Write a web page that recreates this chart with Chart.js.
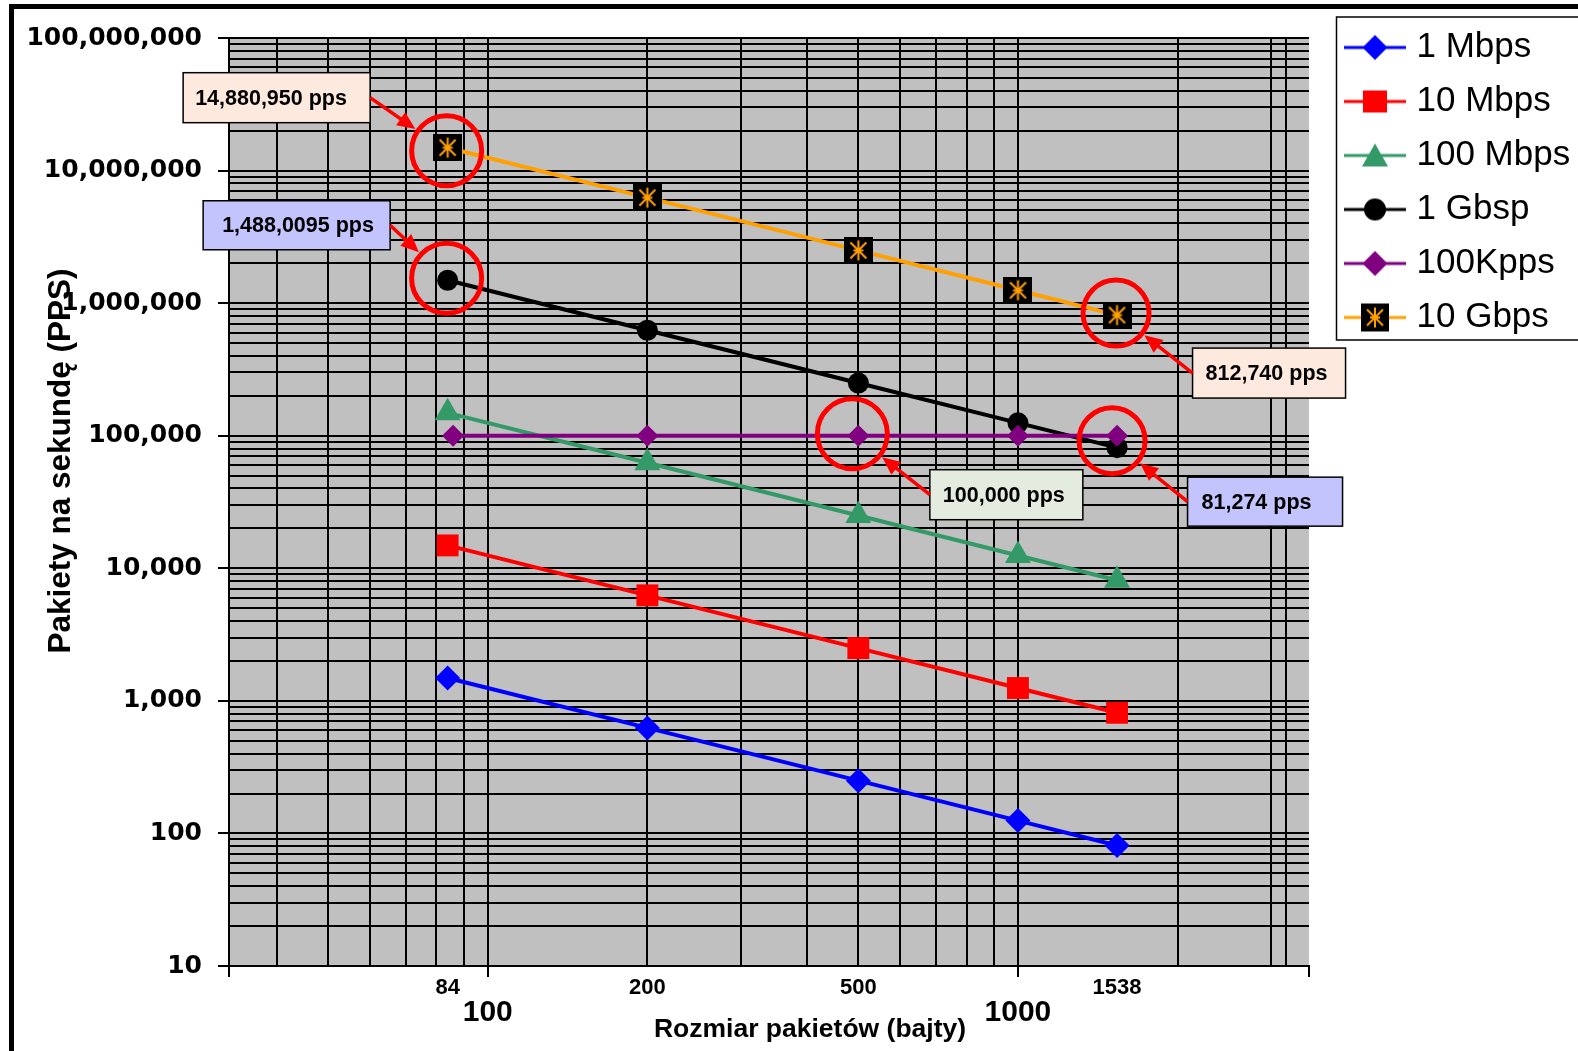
<!DOCTYPE html>
<html lang="pl">
<head>
<meta charset="UTF-8">
<title>Pakiety na sekundę</title>
<script src="https://cdn.jsdelivr.net/npm/chart.js"></script>
<style>
    html, body { margin: 0; padding: 0; background: #fff; overflow: hidden; }
    canvas { display: block; }
</style>
</head>
<body>
<canvas id="ppsChart" width="1578" height="1051"></canvas>
<script>
// packet size in bytes (x axis)
const packetSizes = [84, 200, 500, 1000, 1538];
const kppsSizes = [86, 200, 500, 1000, 1538];

// packets per second for each line
const seriesNames = ['1 Mbps', '10 Mbps', '100 Mbps', '1 Gbsp', '100Kpps', '10 Gbps'];
const pps1M = [1488, 625, 250, 125, 81];
const pps10M = [14881, 6250, 2500, 1250, 813];
const pps100M = [148810, 62500, 25000, 12500, 8127];
const pps1G = [1488095, 625000, 250000, 125000, 81274];
const pps100K = [100000, 100000, 100000, 100000, 100000];
const pps10G = [14880950, 6250000, 2500000, 1250000, 812740];

// axes
const yDecades = [10, 100, 1000, 10000, 100000, 1000000, 10000000, 100000000];
const xRange = [32.5, 3540];
const xGrid = [40, 50, 60, 70, 80, 90, 100, 200, 300, 400, 500, 600, 700, 800, 900, 1000, 2000, 3000, 3200];
const xDecadeLabels = [100, 1000];
const xSizeLabels = [84, 200, 500, 1538];

// callouts
const noteText = ['14,880,950 pps', '1,488,0095 pps', '812,740 pps', '81,274 pps', '100,000 pps'];
const noteX = [84, 84, 1538, 1538, 500];
const noteY = [14880950, 1488095, 812740, 81274, 100000];

const ARIAL = 'Arial, "Liberation Sans", sans-serif';

// callout look, offsets relative to the marked point
const noteStyle = [
    { fill: '#fde9de', cdx: -1, cdy: 3, r: 35, bdx: -171, bdy: -50, w: 187, h: 50, pad: 12, side: 'right' },
    { fill: '#c3c3fd', cdx: -1, cdy: -2, r: 35, bdx: -151, bdy: -55, w: 187, h: 49, pad: 19, side: 'right' },
    { fill: '#fde9de', cdx: -1, cdy: -2, r: 33, bdx: 152, bdy: 58, w: 153, h: 50, pad: 13, side: 'left' },
    { fill: '#c3c3fd', cdx: -5, cdy: -7, r: 33, bdx: 148, bdy: 54, w: 155, h: 49, pad: 14, side: 'left' },
    { fill: '#e4ecdf', cdx: -6, cdy: -2, r: 35, bdx: 148, bdy: 59, w: 153, h: 50, pad: 13, side: 'left' }
];

const seriesStyle = [
    { color: '#0000ff', point: 'rectRot', radius: 12.5, icon: 'diamond' },
    { color: '#ff0000', point: 'rect', radius: 15.5, icon: 'square' },
    { color: '#339966', point: 'triangle', radius: 15, icon: 'triangle' },
    { color: '#000000', point: 'circle', radius: 10.5, icon: 'circle' },
    { color: '#800080', point: 'rectRot', radius: 11, icon: 'diamond' },
    { color: '#ffa000', point: null, radius: 14, icon: 'starbox' }
];

function drawStarBox(g, cx, cy, w, h, color) {
    g.fillStyle = '#000';
    g.fillRect(cx - w / 2, cy - h / 2, w, h);
    g.strokeStyle = color;
    g.lineWidth = 2;
    g.beginPath();
    g.moveTo(cx, cy - 10); g.lineTo(cx, cy + 10);
    g.moveTo(cx - 8, cy - 8); g.lineTo(cx + 8, cy + 8);
    g.moveTo(cx + 8, cy - 8); g.lineTo(cx - 8, cy + 8);
    g.moveTo(cx - 5, cy); g.lineTo(cx + 5, cy);
    g.stroke();
}

function makeStarBox(w, h) {
    const c = document.createElement('canvas');
    c.width = w; c.height = h;
    drawStarBox(c.getContext('2d'), w / 2, h / 2, w, h, '#ffa000');
    return c;
}

function makeLegendIcon(style) {
    const c = document.createElement('canvas');
    c.width = 62; c.height = 30;
    const g = c.getContext('2d');
    const cx = 31, cy = 15;
    g.fillStyle = style.color;
    g.fillRect(0, cy - 1.5, 62, 3);
    g.beginPath();
    if (style.icon === 'diamond') {
        g.moveTo(cx, cy - 12.5); g.lineTo(cx + 12.5, cy); g.lineTo(cx, cy + 12.5); g.lineTo(cx - 12.5, cy);
        g.closePath(); g.fill();
    } else if (style.icon === 'square') {
        g.fillRect(cx - 12, cy - 11, 24, 22);
    } else if (style.icon === 'triangle') {
        g.moveTo(cx, cy - 12); g.lineTo(cx + 13, cy + 11); g.lineTo(cx - 13, cy + 11);
        g.closePath(); g.fill();
    } else if (style.icon === 'circle') {
        g.arc(cx, cy, 11, 0, Math.PI * 2); g.fill();
    } else {
        drawStarBox(g, cx, cy, 28, 28, style.color);
    }
    return c;
}

const starBox = makeStarBox(29, 27);
const legendIcons = seriesStyle.map(makeLegendIcon);

const seriesData = [pps1M, pps10M, pps100M, pps1G, pps100K, pps10G];
const seriesX = [packetSizes, packetSizes, packetSizes, packetSizes, kppsSizes, packetSizes];

const yTicks = [];
yDecades.slice(0, -1).forEach(d => { for (let k = 1; k <= 9; k++) yTicks.push(d * k); });
yTicks.push(yDecades[yDecades.length - 1]);

const xTicks = [...new Set([xRange[0], ...xGrid, ...xSizeLabels, xRange[1]])].sort((a, b) => a - b);
const xTickMarks = [xRange[0], 100, 1000, xRange[1]];

const datasets = seriesNames.map((name, i) => ({
    label: name,
    data: seriesX[i].map((x, j) => ({ x: x, y: seriesData[i][j] })),
    borderColor: seriesStyle[i].color,
    backgroundColor: seriesStyle[i].color,
    borderWidth: 4,
    tension: 0,
    pointStyle: seriesStyle[i].point || starBox,
    pointRadius: seriesStyle[i].radius,
    pointHoverRadius: seriesStyle[i].radius,
    pointBorderWidth: 0,
    pointBackgroundColor: seriesStyle[i].color,
    order: name === '100Kpps' ? 0 : 1
}));

const framePlugin = {
    id: 'frame',
    beforeDraw(chart) {
        const { ctx, chartArea, width, height } = chart;
        ctx.save();
        ctx.fillStyle = '#fff';
        ctx.fillRect(0, 0, width, height);
        ctx.fillStyle = '#000';
        ctx.fillRect(9, 4, width, 5);
        ctx.fillRect(9, 4, 5, height);
        ctx.fillStyle = '#c0c0c0';
        ctx.fillRect(chartArea.left, chartArea.top, chartArea.right - chartArea.left, chartArea.bottom - chartArea.top);
        // legend frame
        ctx.fillStyle = '#fff';
        ctx.fillRect(1336.5, 17, 260, 323);
        ctx.strokeStyle = '#000';
        ctx.lineWidth = 1.5;
        ctx.strokeRect(1336.5, 17, 260, 323);
        ctx.restore();

        const lg = chart.legend;
        lg.left = 1332;
        lg.top = 11;
        lg.right = width + 20;
        lg.bottom = lg.top + 400;
    },
    afterDraw(chart) {
        const { ctx, scales } = chart;
        ctx.save();
        // callouts
        noteText.forEach((text, i) => {
            const st = noteStyle[i];
            const px = scales.x.getPixelForValue(noteX[i]);
            const py = scales.y.getPixelForValue(noteY[i]);
            const cx = px + st.cdx, cy = py + st.cdy;
            ctx.strokeStyle = '#ff0000';
            ctx.lineWidth = 5;
            ctx.beginPath();
            ctx.arc(cx, cy, st.r, 0, Math.PI * 2);
            ctx.stroke();

            const bx = px + st.bdx - st.w / 2, by = py + st.bdy - st.h / 2;
            ctx.fillStyle = st.fill;
            ctx.fillRect(bx, by, st.w, st.h);
            ctx.strokeStyle = '#000';
            ctx.lineWidth = 1.5;
            ctx.strokeRect(bx, by, st.w, st.h);
            ctx.fillStyle = '#000';
            ctx.font = 'bold 21.5px ' + ARIAL;
            ctx.textAlign = 'left';
            ctx.textBaseline = 'middle';
            ctx.fillText(text, bx + st.pad, by + st.h / 2 + 1);

            const sx = st.side === 'right' ? bx + st.w : bx;
            const sy = by + st.h / 2;
            const ang = Math.atan2(cy - sy, cx - sx);
            const len = Math.hypot(cx - sx, cy - sy) - st.r - 3;
            const cos = Math.cos(ang), sin = Math.sin(ang);
            const ex = sx + cos * len, ey = sy + sin * len;
            ctx.strokeStyle = '#ff0000';
            ctx.fillStyle = '#ff0000';
            ctx.lineWidth = 3.5;
            ctx.beginPath();
            ctx.moveTo(sx, sy);
            ctx.lineTo(ex - cos * 12, ey - sin * 12);
            ctx.stroke();
            ctx.beginPath();
            ctx.moveTo(ex, ey);
            ctx.lineTo(ex - cos * 18 - sin * 8, ey - sin * 18 + cos * 8);
            ctx.lineTo(ex - cos * 18 + sin * 8, ey - sin * 18 - cos * 8);
            ctx.closePath();
            ctx.fill();
        });

        // axis titles
        ctx.fillStyle = '#000';
        ctx.textAlign = 'center';
        ctx.textBaseline = 'middle';
        ctx.font = 'bold 26.5px ' + ARIAL;
        ctx.fillText('Rozmiar pakietów (bajty)', 810, 1030);
        ctx.translate(61, 461);
        ctx.rotate(-Math.PI / 2);
        ctx.font = 'bold 31.5px ' + ARIAL;
        ctx.fillText('Pakiety na sekundę (PPS)', 0, 0);
        ctx.restore();
    }
};

new Chart(document.getElementById('ppsChart'), {
    type: 'line',
    data: { datasets: datasets },
    plugins: [framePlugin],
    options: {
        responsive: false,
        animation: false,
        events: [],
        layout: { padding: { left: 0, top: 38, right: 269, bottom: 0 } },
        scales: {
            x: {
                type: 'logarithmic',
                min: xRange[0],
                max: xRange[1],
                afterBuildTicks: s => { s.ticks = xTicks.map(v => ({ value: v })); },
                afterFit: s => { s.height = 85; },
                ticks: {
                    autoSkip: false,
                    maxRotation: 0,
                    minRotation: 0,
                    padding: 0,
                    color: '#000',
                    font: c => (c.tick && xDecadeLabels.includes(c.tick.value))
                        ? { family: ARIAL, size: 30, weight: 'bold', lineHeight: 2.4 }
                        : { family: ARIAL, size: 22, weight: 'bold', lineHeight: 1.0 },
                    callback: v => (xDecadeLabels.includes(v) || xSizeLabels.includes(v)) ? String(v) : ''
                },
                grid: {
                    color: c => (c.tick && xGrid.includes(c.tick.value)) ? '#000' : 'rgba(0,0,0,0)',
                    lineWidth: 2,
                    tickLength: 11,
                    tickWidth: 2,
                    tickColor: c => (c.tick && xTickMarks.includes(c.tick.value)) ? '#000' : 'rgba(0,0,0,0)'
                },
                border: { color: '#000', width: 2 }
            },
            y: {
                type: 'logarithmic',
                min: 10,
                max: 100000000,
                afterBuildTicks: s => { s.ticks = yTicks.map(v => ({ value: v })); },
                afterFit: s => { s.width = 229; },
                ticks: {
                    autoSkip: false,
                    padding: 16,
                    color: '#000',
                    font: { family: '"DejaVu Sans", sans-serif', size: 25, weight: 'bold' },
                    callback: v => yDecades.includes(v) ? v.toLocaleString('en-US') : ''
                },
                grid: {
                    color: '#000',
                    lineWidth: 2,
                    tickLength: 11,
                    tickWidth: 2,
                    tickColor: c => (c.tick && yDecades.includes(c.tick.value)) ? '#000' : 'rgba(0,0,0,0)'
                },
                border: { color: '#000', width: 2 }
            }
        },
        plugins: {
            tooltip: { enabled: false },
            legend: {
                position: 'chartArea',
                align: 'start',
                labels: {
                    usePointStyle: true,
                    pointStyleWidth: 48,
                    padding: 19,
                    color: '#000',
                    font: { family: ARIAL, size: 35 },
                    generateLabels: () => seriesNames.map((name, i) => ({
                        text: name,
                        pointStyle: legendIcons[i],
                        fillStyle: seriesStyle[i].color,
                        strokeStyle: seriesStyle[i].color,
                        lineWidth: 0,
                        hidden: false,
                        datasetIndex: i
                    }))
                }
            }
        }
    }
});
</script>
</body>
</html>
